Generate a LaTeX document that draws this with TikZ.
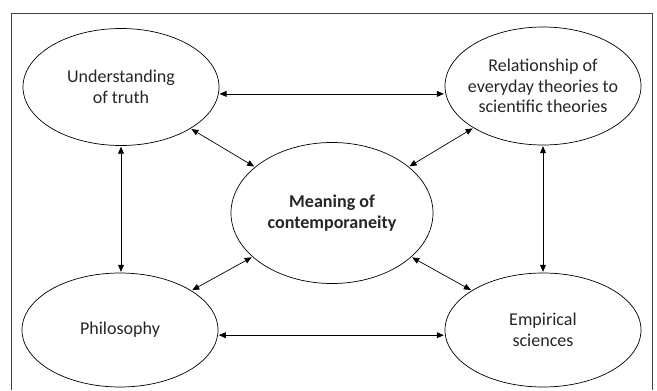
\documentclass[tikz,border=0pt]{standalone}
\usepackage{fontspec}
\setmainfont{Carlito}
\usetikzlibrary{shapes.geometric,arrows.meta}
\tikzset{
  oval/.style={draw, ellipse, line width=0.6pt, inner sep=-6pt, outer sep=1pt,
    minimum width=5.88cm, minimum height=3.51cm, align=center,
    font=\fontsize{15.4}{17.5}\selectfont, text=black!85},
  link/.style={{Triangle[length=6pt,width=5pt]}-{Triangle[length=6pt,width=5pt]}, line width=0.6pt}
}
\begin{document}
\begin{tikzpicture}[x=0.03cm,y=-0.03cm]
  \useasboundingbox (0,0) rectangle (657,390);
  \draw[line width=0.8pt, black!75] (11,390) |- (652,13) -- (652,390);
  % the five ovals
  \node[oval] (truth) at (121,87) {Understanding\\of truth};
  \node[oval, minimum height=3.54cm] (rel) at (543,86) {Relationship of\\everyday theories to\\scientific theories};
  \node[oval, minimum width=6.06cm, minimum height=4.23cm,
    font=\fontsize{15.4}{17.5}\selectfont\bfseries] (mean) at (332,213) {Meaning of\\contemporaneity};
  \node[oval, minimum height=3.42cm] (phil) at (120,330) {Philosophy};
  \node[oval, minimum height=3.42cm] (emp) at (543,330) {Empirical\\sciences};
  % arrows round the edge
  \draw[link] (truth.-4) -- (truth.-4 -| rel.west);
  \draw[link] (truth.south) -- (truth.south |- phil.north);
  \draw[link] (rel.south) -- (rel.south |- emp.north);
  \draw[link] (phil.-3) -- (phil.-3 -| emp.west);
  % arrows to the middle
  \draw[link] (truth) -- (mean);
  \draw[link] (rel) -- (mean);
  \draw[link] (phil) -- (mean);
  \draw[link] (emp) -- (mean);
\end{tikzpicture}
\end{document}
